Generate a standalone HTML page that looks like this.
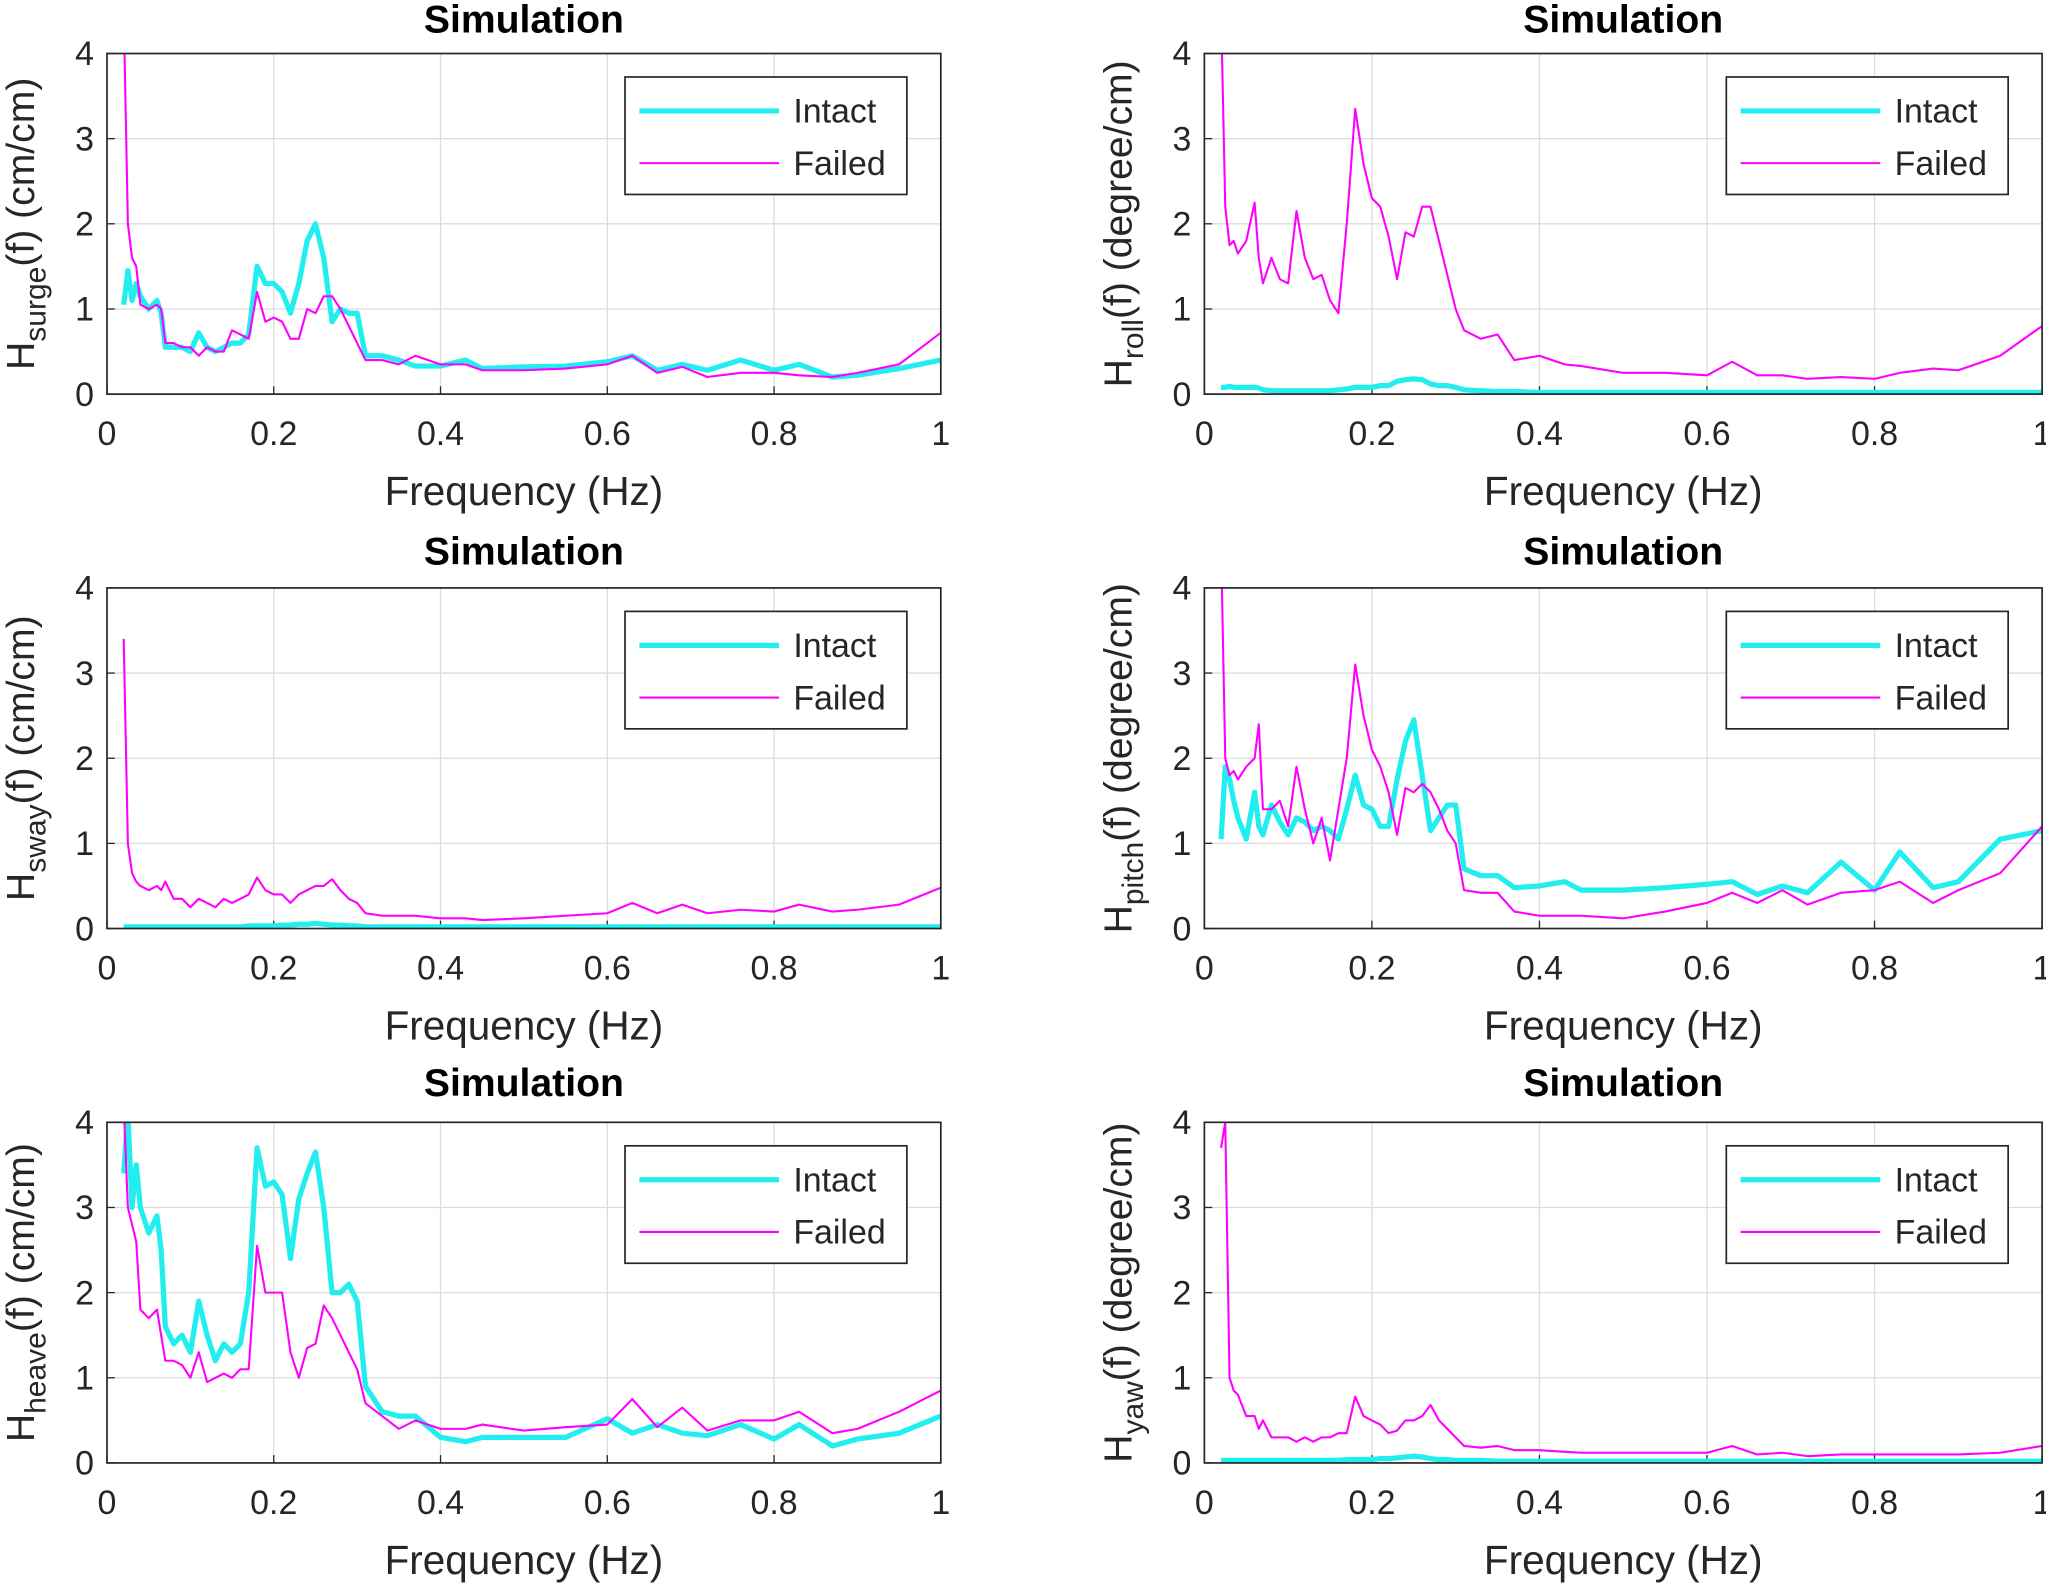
<!DOCTYPE html>
<html><head><meta charset="utf-8">
<style>
html,body{margin:0;padding:0;background:#fff;}
svg{display:block;}
text{font-family:"Liberation Sans",Arial,sans-serif;fill:#262626;}
</style></head>
<body>
<svg id="fig" width="2046" height="1583" viewBox="0 0 1568 1213" preserveAspectRatio="none" xmlns="http://www.w3.org/2000/svg"></svg>
<script>
const freq=[0.02,0.025,0.03,0.035,0.04,0.05,0.06,0.065,0.07,0.08,0.09,0.1,0.11,0.12,0.13,0.14,0.15,0.16,0.17,0.18,0.19,0.2,0.21,0.22,0.23,0.24,0.25,0.26,0.27,0.28,0.29,0.3,0.31,0.33,0.35,0.37,0.4,0.43,0.45,0.5,0.55,0.6,0.63,0.66,0.69,0.72,0.76,0.8,0.83,0.87,0.9,0.95,1.0];
const surgeIntact=[1.05,1.45,1.1,1.3,1.15,1.0,1.1,0.95,0.55,0.55,0.55,0.5,0.72,0.55,0.5,0.55,0.6,0.6,0.7,1.5,1.3,1.3,1.2,0.95,1.3,1.8,2.0,1.6,0.85,1.0,0.95,0.95,0.45,0.45,0.4,0.33,0.33,0.4,0.3,0.32,0.33,0.38,0.45,0.28,0.35,0.28,0.4,0.28,0.35,0.2,0.22,0.3,0.4];
const surgeFailed=[4.5,2.0,1.6,1.5,1.05,1.0,1.05,1.0,0.6,0.6,0.55,0.55,0.45,0.55,0.5,0.5,0.75,0.7,0.65,1.2,0.85,0.9,0.85,0.65,0.65,1.0,0.95,1.15,1.15,1.0,0.8,0.6,0.4,0.4,0.35,0.45,0.35,0.35,0.28,0.28,0.3,0.35,0.45,0.25,0.32,0.2,0.25,0.25,0.22,0.2,0.25,0.35,0.72];
const swayIntact=[0.02,0.02,0.02,0.02,0.02,0.02,0.02,0.02,0.02,0.02,0.02,0.02,0.02,0.02,0.02,0.02,0.02,0.02,0.03,0.03,0.03,0.03,0.04,0.04,0.05,0.05,0.06,0.05,0.04,0.04,0.03,0.03,0.02,0.02,0.02,0.02,0.02,0.02,0.02,0.02,0.02,0.02,0.02,0.02,0.02,0.02,0.02,0.02,0.02,0.02,0.02,0.02,0.02];
const swayFailed=[3.4,1.0,0.65,0.55,0.5,0.45,0.5,0.45,0.55,0.35,0.35,0.25,0.35,0.3,0.25,0.35,0.3,0.35,0.4,0.6,0.45,0.4,0.4,0.3,0.4,0.45,0.5,0.5,0.58,0.45,0.35,0.3,0.18,0.15,0.15,0.15,0.12,0.12,0.1,0.12,0.15,0.18,0.3,0.18,0.28,0.18,0.22,0.2,0.28,0.2,0.22,0.28,0.48];
const heaveIntact=[3.4,4.1,3.0,3.5,3.0,2.7,2.9,2.5,1.6,1.4,1.5,1.3,1.9,1.5,1.2,1.4,1.3,1.4,2.0,3.7,3.25,3.3,3.15,2.4,3.1,3.4,3.65,3.0,2.0,2.0,2.1,1.9,0.9,0.6,0.55,0.55,0.3,0.25,0.3,0.3,0.3,0.52,0.35,0.45,0.35,0.32,0.45,0.28,0.45,0.2,0.28,0.35,0.55];
const heaveFailed=[4.2,3.0,2.8,2.6,1.8,1.7,1.8,1.5,1.2,1.2,1.15,1.0,1.3,0.95,1.0,1.05,1.0,1.1,1.1,2.55,2.0,2.0,2.0,1.3,1.0,1.35,1.4,1.85,1.7,1.5,1.3,1.1,0.7,0.55,0.4,0.5,0.4,0.4,0.45,0.38,0.42,0.45,0.75,0.42,0.65,0.38,0.5,0.5,0.6,0.35,0.4,0.6,0.85];
const rollIntact=[0.08,0.08,0.09,0.08,0.08,0.08,0.08,0.07,0.05,0.04,0.04,0.04,0.04,0.04,0.04,0.04,0.04,0.05,0.06,0.08,0.08,0.08,0.1,0.1,0.15,0.17,0.18,0.17,0.12,0.1,0.1,0.08,0.05,0.04,0.03,0.03,0.02,0.02,0.02,0.02,0.02,0.02,0.02,0.02,0.02,0.02,0.02,0.02,0.02,0.02,0.02,0.02,0.02];
const rollFailed=[4.5,2.2,1.75,1.8,1.65,1.8,2.25,1.6,1.3,1.6,1.35,1.3,2.15,1.6,1.35,1.4,1.1,0.95,2.0,3.35,2.7,2.3,2.2,1.85,1.35,1.9,1.85,2.2,2.2,1.8,1.4,1.0,0.75,0.65,0.7,0.4,0.45,0.35,0.33,0.25,0.25,0.22,0.38,0.22,0.22,0.18,0.2,0.18,0.25,0.3,0.28,0.45,0.8];
const pitchIntact=[1.05,1.9,1.75,1.5,1.3,1.05,1.6,1.2,1.1,1.45,1.25,1.1,1.3,1.25,1.15,1.2,1.15,1.05,1.4,1.8,1.45,1.4,1.2,1.2,1.75,2.2,2.45,1.8,1.15,1.3,1.45,1.45,0.7,0.62,0.62,0.48,0.5,0.55,0.45,0.45,0.48,0.52,0.55,0.4,0.5,0.42,0.78,0.45,0.9,0.48,0.55,1.05,1.15];
const pitchFailed=[4.5,2.0,1.8,1.85,1.75,1.9,2.0,2.4,1.4,1.4,1.5,1.2,1.9,1.4,1.0,1.3,0.8,1.4,2.0,3.1,2.5,2.1,1.9,1.6,1.1,1.65,1.6,1.7,1.6,1.4,1.15,1.0,0.45,0.42,0.42,0.2,0.15,0.15,0.15,0.12,0.2,0.3,0.42,0.3,0.45,0.28,0.42,0.45,0.55,0.3,0.45,0.65,1.2];
const yawIntact=[0.03,0.03,0.03,0.03,0.03,0.03,0.03,0.03,0.03,0.03,0.03,0.03,0.03,0.03,0.03,0.03,0.03,0.03,0.04,0.04,0.04,0.04,0.05,0.05,0.06,0.07,0.08,0.07,0.05,0.04,0.04,0.03,0.03,0.03,0.02,0.02,0.02,0.02,0.02,0.02,0.02,0.02,0.02,0.02,0.02,0.02,0.02,0.02,0.02,0.02,0.02,0.02,0.02];
const yawFailed=[3.7,4.0,1.0,0.85,0.8,0.55,0.55,0.4,0.5,0.3,0.3,0.3,0.25,0.3,0.25,0.3,0.3,0.35,0.35,0.78,0.55,0.5,0.45,0.35,0.38,0.5,0.5,0.55,0.68,0.5,0.4,0.3,0.2,0.18,0.2,0.15,0.15,0.13,0.12,0.12,0.12,0.12,0.2,0.1,0.12,0.08,0.1,0.1,0.1,0.1,0.1,0.12,0.2];
const xTicks=[0,0.2,0.4,0.6,0.8,1];
const xTickLabels=["0","0.2","0.4","0.6","0.8","1"];
const yTicks=[0,1,2,3,4];

const panels=[
 {id:'surge',sub:'surge',unit:'(cm/cm)',col:0,row:0,a:surgeIntact,b:surgeFailed},
 {id:'roll',sub:'roll',unit:'(degree/cm)',col:1,row:0,a:rollIntact,b:rollFailed},
 {id:'sway',sub:'sway',unit:'(cm/cm)',col:0,row:1,a:swayIntact,b:swayFailed},
 {id:'pitch',sub:'pitch',unit:'(degree/cm)',col:1,row:1,a:pitchIntact,b:pitchFailed},
 {id:'heave',sub:'heave',unit:'(cm/cm)',col:0,row:2,a:heaveIntact,b:heaveFailed},
 {id:'yaw',sub:'yaw',unit:'(degree/cm)',col:1,row:2,a:yawIntact,b:yawFailed}
];
const NS='http://www.w3.org/2000/svg';
const svg=document.getElementById('fig');
function mk(tag,attrs,parent){const e=document.createElementNS(NS,tag);for(const k in attrs)e.setAttribute(k,attrs[k]);(parent||svg).appendChild(e);return e;}
const defs=mk('defs',{});
panels.forEach(p=>{
  const X0=p.col?923:82, X1=p.col?1565:721;
  const Yb=302+p.row*409.5, Yt=41+p.row*409.5;
  const sx=v=>X0+(v)*(X1-X0);
  const sy=v=>Yb-(v/4)*(Yb-Yt);
  const g=mk('g',{});
  
  
  const cp=mk('clipPath',{id:'clip-'+p.id},defs);
  mk('rect',{x:X0,y:Yt,width:X1-X0,height:Yb-Yt},cp);
  mk('rect',{x:X0,y:Yt,width:X1-X0,height:Yb-Yt,fill:'#fff'},g);
  xTicks.forEach((t,i)=>{
    if(i>0&&i<xTicks.length-1){const l=mk('line',{x1:sx(t),x2:sx(t),y1:Yt,y2:Yb,stroke:'#dcdcdc','stroke-width':1},g);
    }
    const tk=mk('text',{x:sx(t),y:Yb+39,'font-size':26,'text-anchor':'middle'},g);tk.textContent=xTickLabels[i];
    
    mk('line',{x1:sx(t),x2:sx(t),y1:Yb,y2:Yb-6,stroke:'#262626'},g);
  });
  yTicks.forEach(t=>{
    if(t>0&&t<4){const l=mk('line',{x1:X0,x2:X1,y1:sy(t),y2:sy(t),stroke:'#dcdcdc','stroke-width':1},g);
    }
    const tk=mk('text',{x:X0-10,y:sy(t)+9,'font-size':26,'text-anchor':'end'},g);tk.textContent=String(t);
    
    mk('line',{x1:X0,x2:X0+6,y1:sy(t),y2:sy(t),stroke:'#262626'},g);
  });
  function path(vals,color,w,name){
    const n=Math.min(freq.length,vals.length);let d='';
    for(let i=0;i<n;i++)d+=(i?'L':'M')+sx(freq[i]).toFixed(1)+','+sy(vals[i]).toFixed(1);
    const e=mk('path',{d:d,fill:'none',stroke:color,'stroke-width':w,'stroke-linejoin':'round','clip-path':'url(#clip-'+p.id+')'},g);
    
  }
  path(p.a,'#22eef0',4,p.id+'-intact-line');
  path(p.b,'#ff00ff',1.6,p.id+'-failed-line');
  mk('rect',{x:X0,y:Yt,width:X1-X0,height:Yb-Yt,fill:'none',stroke:'#262626','stroke-width':1.3},g);
  const ti=mk('text',{x:(X0+X1)/2,y:Yt-16-p.row*2,'font-size':30,'font-weight':'bold','text-anchor':'middle',style:'fill:#000'},g);
  ti.textContent='Simulation';
  const xl=mk('text',{x:(X0+X1)/2,y:Yb+85,'font-size':31,'text-anchor':'middle'},g);
  xl.textContent='Frequency (Hz)';
  const yc=(Yt+Yb)/2, yx=X0-56;
  const yl=mk('text',{x:yx,y:yc,'font-size':30,'text-anchor':'middle',transform:'rotate(-90 '+yx+' '+yc+')'},g);
  
  const t1=mk('tspan',{},yl);t1.textContent='H';
  const t2=mk('tspan',{'font-size':23,dy:9},yl);t2.textContent=p.sub;
  const t3=mk('tspan',{dy:-9},yl);t3.textContent='(f) '+p.unit;
  const LX=p.col?1323:479, LY=59+p.row*409.5;
  const lg=mk('g',{},g);
  mk('rect',{x:LX,y:LY,width:216,height:90,fill:'#fff',stroke:'#262626','stroke-width':1.3},lg);
  mk('line',{x1:LX+11,x2:LX+118,y1:LY+26,y2:LY+26,stroke:'#22eef0','stroke-width':4},lg);
  mk('line',{x1:LX+11,x2:LX+118,y1:LY+66,y2:LY+66,stroke:'#ff00ff','stroke-width':1.6},lg);
  const a=mk('text',{x:LX+129,y:LY+35,'font-size':26},lg);a.textContent='Intact';
  
  const b=mk('text',{x:LX+129,y:LY+75,'font-size':26},lg);b.textContent='Failed';
  
});
</script>
</body></html>
